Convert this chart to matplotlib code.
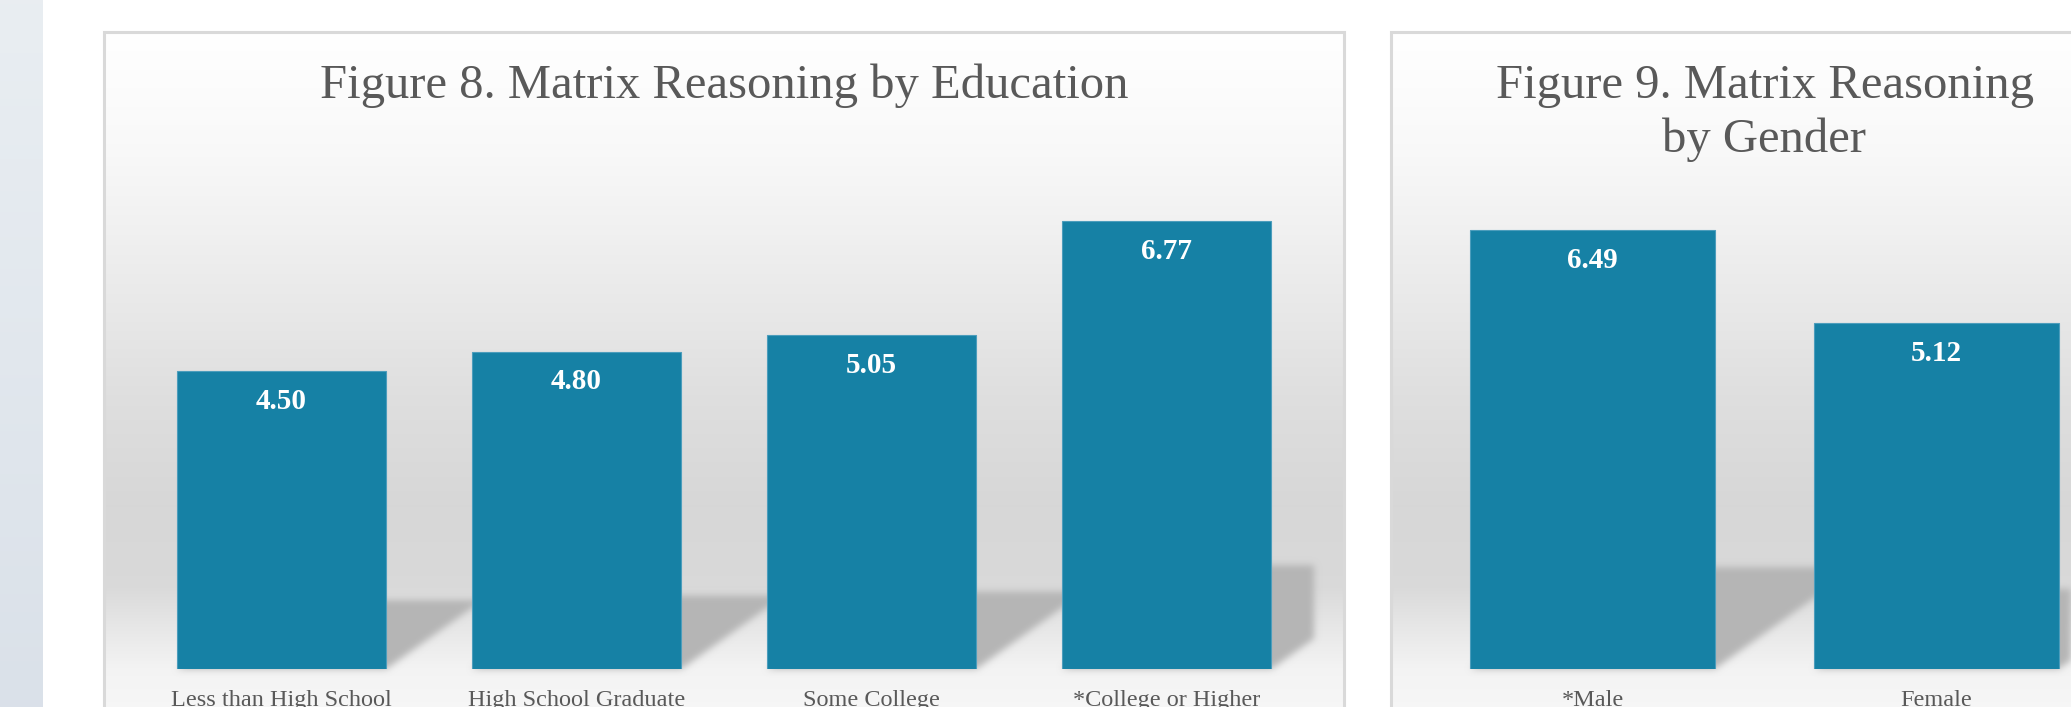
import numpy as np
import matplotlib
matplotlib.use("Agg")
import matplotlib.pyplot as plt
from matplotlib.patches import Polygon, Rectangle

# chart data
edu_categories = ["Less than High School", "High School Graduate", "Some College", "*College or Higher"]
edu_values = [4.50, 4.80, 5.05, 6.77]
gender_categories = ["*Male", "Female"]
gender_values = [6.49, 5.12]

W, H = 2071, 707
BAR_COLOR = "#1681a5"
TEXT_GRAY = "#595959"
SERIF = ["Liberation Serif", "DejaVu Serif"]

fig = plt.figure(figsize=(W / 100, H / 100), dpi=100)
fig.patch.set_facecolor("white")


def box(x0, y0, x1, y1):
    # pixel box (top-left origin) -> figure fraction rect
    return [x0 / W, 1 - y1 / H, (x1 - x0) / W, (y1 - y0) / H]


def soft_edges(sigma, gray):
    # blur only the alpha of a patch, keep its colour flat
    r = int(3 * sigma)
    k = np.exp(-0.5 * (np.arange(-r, r + 1) / sigma) ** 2)
    k /= k.sum()

    def filt(im, dpi):
        a = np.pad(im[:, :, 3], r)
        b = np.zeros_like(a)
        for i, w in enumerate(k):
            b += w * np.roll(a, i - r, axis=0)
        c = np.zeros_like(b)
        for i, w in enumerate(k):
            c += w * np.roll(b, i - r, axis=1)
        out = np.zeros(c.shape + (4,), dtype=im.dtype)
        out[:, :, :3] = gray
        out[:, :, 3] = c
        return out, -r, -r
    return filt


# left decorative strip
strip = fig.add_axes(box(0, 0, 43, H))
top_c = np.array([0.914, 0.933, 0.949])
bot_c = np.array([0.855, 0.882, 0.914])
t = np.linspace(0, 1, 200)[:, None, None]
strip.imshow(top_c * (1 - t) + bot_c * t, aspect="auto", extent=[0, 1, 0, 1])
strip.set_axis_off()

# panel background gradient (by pixel row)
stop_y = [32, 150, 300, 400, 505, 585, 626, 669, 745]
stop_v = [1.0, 0.975, 0.915, 0.872, 0.843, 0.852, 0.905, 0.955, 0.978]


def panel(x0, x1, y0=32, y1=745):
    ax = fig.add_axes(box(x0, y0, x1, y1))
    rows = np.interp(np.arange(y0, y1), stop_y, stop_v)
    ax.imshow(np.repeat(rows[:, None, None], 3, axis=2), aspect="auto",
              extent=[0, 1, 0, 1], interpolation="bilinear")
    ax.add_patch(Rectangle((0, 0), 1, 1, transform=ax.transAxes, fill=False,
                           edgecolor="#d9d9d9", linewidth=2.2, clip_on=False))
    ax.set_xlim(0, 1)
    ax.set_ylim(0, 1)
    ax.set_axis_off()
    return ax


def bar_chart(rect, cats, vals, ymax):
    ax = fig.add_axes(rect)
    ax.set_facecolor("none")
    x = np.arange(len(cats))
    ax.set_xlim(-0.5, len(cats) - 0.5)
    ax.set_ylim(0, ymax)
    width = 0.71

    # perspective shadows behind bars
    (x0p, y0p), (x1p, y1p) = ax.transData.transform([(0, 0), (1, 1)])
    sx, sy = x1p - x0p, y1p - y0p
    for xi, v in zip(x, vals):
        hs = 0.232 * v
        dx = 1.4 * hs * sy / sx
        sh = Polygon([(xi - width / 2, 0), (xi + width / 2, 0),
                      (xi + width / 2 + dx, hs), (xi - width / 2 + dx, hs)],
                     closed=True, facecolor="#b5b5b5", edgecolor="none", zorder=1)
        sh.set_agg_filter(soft_edges(3.5, 0.71))
        ax.add_patch(sh)

    ax.bar(x, vals, width=width, color=BAR_COLOR, edgecolor="#4c9dbc",
           linewidth=0.8, zorder=3)
    for xi, v in zip(x, vals):
        ax.annotate(f"{v:.2f}", (xi, v), xytext=(0, -27), textcoords="offset points",
                    ha="center", va="baseline", color="white", fontsize=21,
                    fontweight="bold", family=SERIF, zorder=4)

    ax.set_xticks(x, cats)
    ax.tick_params(axis="x", length=0, pad=15, labelsize=17.5, labelcolor=TEXT_GRAY)
    for lab in ax.get_xticklabels():
        lab.set_family(SERIF)
    ax.set_yticks([])
    for s in ax.spines.values():
        s.set_visible(False)
    return ax


panel(104, 1344)
panel(1391, 2138)

bar_chart(box(134, 140, 1314, 669), edu_categories, edu_values, 8)
bar_chart(box(1420.5, 196, 2108.5, 669), gender_categories, gender_values, 7)

fig.text(724 / W, 1 - 98 / H, "Figure 8. Matrix Reasoning by Education",
         ha="center", va="baseline", fontsize=35, color=TEXT_GRAY, family=SERIF)
fig.text(1764.5 / W, 1 - 98 / H, "Figure 9. Matrix Reasoning",
         ha="center", va="baseline", fontsize=35, color=TEXT_GRAY, family=SERIF)
fig.text(1764.5 / W, 1 - 152 / H, "by Gender",
         ha="center", va="baseline", fontsize=35, color=TEXT_GRAY, family=SERIF)

fig.savefig("out.png", dpi=100, facecolor=fig.get_facecolor())
